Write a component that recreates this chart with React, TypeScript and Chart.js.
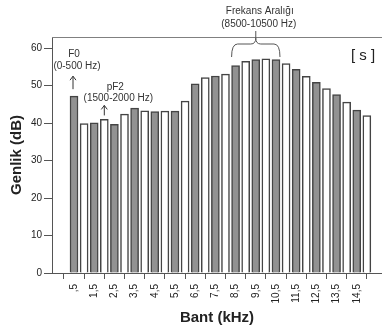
import React, { useEffect, useRef } from "react";
import { Chart, registerables } from "chart.js";

Chart.register(...registerables);

const bands = [0.5, 1.0, 1.5, 2.0, 2.5, 3.0, 3.5, 4.0, 4.5, 5.0, 5.5, 6.0, 6.5, 7.0, 7.5, 8.0, 8.5, 9.0, 9.5, 10.0, 10.5, 11.0, 11.5, 12.0, 12.5, 13.0, 13.5, 14.0, 14.5, 15.0];
const amplitudes = [47.2, 39.9, 40.1, 41.0, 39.7, 42.4, 44.0, 43.3, 43.1, 43.2, 43.2, 45.9, 50.5, 52.2, 52.6, 53.1, 55.4, 56.5, 57.0, 57.2, 57.0, 55.9, 54.4, 52.5, 50.9, 49.2, 47.6, 45.6, 43.5, 42.0];
const tickValues = [0.5, 1.5, 2.5, 3.5, 4.5, 5.5, 6.5, 7.5, 8.5, 9.5, 10.5, 11.5, 12.5, 13.5, 14.5];
const tickLabels = [",5", "1,5", "2,5", "3,5", "4,5", "5,5", "6,5", "7,5", "8,5", "9,5", "10,5", "11,5", "12,5", "13,5", "14,5"];
const yTicks = [0, 10, 20, 30, 40, 50, 60];

const GRAY = "#929292";
const WHITE = "#ffffff";
const EDGE = "#444444";
const ANN_FONT = "10px 'Liberation Sans', Arial, sans-serif";

function arrowUp(ctx: CanvasRenderingContext2D, x: number, yTop: number, yBot: number) {
  ctx.beginPath();
  ctx.moveTo(x, yBot);
  ctx.lineTo(x, yTop);
  ctx.moveTo(x - 3, yTop + 4);
  ctx.lineTo(x, yTop);
  ctx.lineTo(x + 3, yTop + 4);
  ctx.stroke();
}

const annotationPlugin = {
  id: "annotations",
  afterDraw(chart: any) {
    const ctx: CanvasRenderingContext2D = chart.ctx;
    const { left, right, top } = chart.chartArea;
    const xs = chart.scales.x;
    const ys = chart.scales.y;
    ctx.save();
    ctx.strokeStyle = "#808080";
    ctx.lineWidth = 1;
    ctx.beginPath();
    ctx.moveTo(left, Math.round(top) + 0.5);
    ctx.lineTo(right, Math.round(top) + 0.5);
    ctx.stroke();

    ctx.fillStyle = "#333333";
    ctx.strokeStyle = "#333333";
    ctx.font = ANN_FONT;
    ctx.textAlign = "center";
    ctx.textBaseline = "middle";

    const xF0 = xs.getPixelForValue(bands[0]);
    const yF0 = ys.getPixelForValue(amplitudes[0]);
    ctx.fillText("F0", xF0, yF0 - 42);
    ctx.fillText("(0-500 Hz)", xF0 + 3, yF0 - 30);
    arrowUp(ctx, xF0 - 1, yF0 - 20, yF0 - 7);

    const xP = xs.getPixelForValue(bands[3]);
    const yP = ys.getPixelForValue(amplitudes[3]);
    ctx.fillText("pF2", xP + 11, yP - 32);
    ctx.fillText("(1500-2000 Hz)", xP + 14, yP - 21);
    arrowUp(ctx, xP, yP - 14, yP - 4);

    const x1 = xs.getPixelForValue(bands[16]) - 4;
    const x2 = xs.getPixelForValue(bands[20]) + 4;
    const xm = (x1 + x2) / 2;
    ctx.fillText("Frekans Aralığı", xm + 4, 11);
    ctx.fillText("(8500-10500 Hz)", xm + 3, 24);
    ctx.strokeStyle = "#555555";
    ctx.beginPath();
    ctx.moveTo(x1, 57);
    ctx.quadraticCurveTo(x1, 44, x1 + 6, 44);
    ctx.lineTo(xm - 5, 44);
    ctx.quadraticCurveTo(xm, 44, xm, 38);
    ctx.lineTo(xm, 31);
    ctx.moveTo(xm, 38);
    ctx.quadraticCurveTo(xm, 44, xm + 5, 44);
    ctx.lineTo(x2 - 6, 44);
    ctx.quadraticCurveTo(x2, 44, x2, 57);
    ctx.stroke();

    ctx.fillStyle = "#222222";
    ctx.font = "15px 'Liberation Sans', Arial, sans-serif";
    ctx.fillText("[ s ]", 363, 56);
    ctx.restore();
  },
};

export default function App() {
  const ref = useRef<HTMLCanvasElement | null>(null);
  useEffect(() => {
    if (!ref.current) return;
    const chart = new Chart(ref.current, {
      type: "bar",
      data: {
        datasets: [
          {
            data: bands.map((b, i) => ({ x: b, y: amplitudes[i] })),
            backgroundColor: bands.map((_, i) => (i % 2 === 0 ? GRAY : WHITE)),
            borderColor: EDGE,
            borderWidth: 1.5,
            barThickness: 8,
          },
        ],
      },
      options: {
        animation: false,
        responsive: true,
        maintainAspectRatio: false,
        layout: { padding: { top: 37, left: 0, right: 0, bottom: 0 } },
        plugins: { legend: { display: false }, tooltip: { enabled: false } },
        scales: {
          x: {
            type: "linear",
            offset: false,
            min: -0.59,
            max: 15.75,
            afterBuildTicks: (scale: any) => {
              scale.ticks = tickValues.map((v) => ({ value: v }));
            },
            afterFit: (scale: any) => {
              scale.height = 54;
              scale.paddingLeft = 0;
              scale.paddingRight = 0;
            },
            ticks: {
              autoSkip: false,
              maxRotation: 90,
              minRotation: 90,
              padding: 5,
              color: "#222222",
              font: { family: "'Liberation Sans', Arial, sans-serif", size: 10 },
              callback: (_v: any, i: number) => tickLabels[i],
            },
            grid: { drawOnChartArea: false, tickLength: 6, color: "#555555" },
            border: { color: "#555555", width: 1 },
            title: {
              display: true,
              text: "Bant (kHz)",
              color: "#222222",
              font: { family: "'Liberation Sans', Arial, sans-serif", size: 15, weight: "bold" },
              padding: { top: 0, bottom: 0 },
            },
          },
          y: {
            type: "linear",
            min: 0,
            max: 63,
            afterBuildTicks: (scale: any) => {
              scale.ticks = yTicks.map((v) => ({ value: v }));
            },
            afterFit: (scale: any) => {
              scale.width = 52;
              scale.paddingTop = 0;
              scale.paddingBottom = 0;
            },
            ticks: {
              padding: 2,
              color: "#222222",
              font: { family: "'Liberation Sans', Arial, sans-serif", size: 10 },
            },
            grid: { drawOnChartArea: false, tickLength: 8, color: "#555555" },
            border: { color: "#555555", width: 1 },
            title: {
              display: true,
              text: "Genlik (dB)",
              color: "#222222",
              font: { family: "'Liberation Sans', Arial, sans-serif", size: 15, weight: "bold" },
              padding: { top: 8, bottom: 0 },
            },
          },
        },
      },
      plugins: [annotationPlugin],
    });
    return () => chart.destroy();
  }, []);
  return (
    <div style={{ position: "absolute", left: 0, top: 0, width: 382, height: 327, background: "#fff" }}>
      <canvas ref={ref} />
    </div>
  );
}
